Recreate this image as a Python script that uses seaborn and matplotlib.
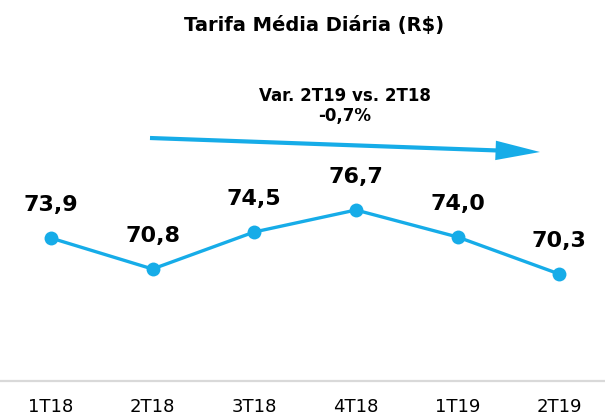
import numpy as np
import pandas as pd
import matplotlib
matplotlib.use("Agg")
import matplotlib.pyplot as plt
import seaborn as sns

# ---- Data ----
quarters = ["1T18", "2T18", "3T18", "4T18", "1T19", "2T19"]
tarifa = [73.9, 70.8, 74.5, 76.7, 74.0, 70.3]
title = "Tarifa Média Diária (R$)"
var_text = "Var. 2T19 vs. 2T18\n-0,7%"

df = pd.DataFrame({"trimestre": quarters, "tarifa": tarifa})
df["pos"] = np.arange(len(df))

blue = "#16ACE8"

sns.set_style("white")
plt.rcParams["font.family"] = ["DejaVu Sans"]
plt.rcParams["text.color"] = "black"

fig = plt.figure(figsize=(6.05, 4.17), dpi=100)
ax = fig.add_axes([0.0, 36 / 417, 1.0, 381 / 417])

sns.lineplot(data=df, x="pos", y="tarifa", ax=ax, color=blue, linewidth=2.4,
             marker="o", markersize=10, markeredgewidth=0, markeredgecolor=blue)

# value labels above points
for x, y in zip(df["pos"], df["tarifa"]):
    ax.annotate(f"{y:.1f}".replace(".", ","), (x, y), xytext=(0, 23.5),
                textcoords="offset points", ha="center", va="center",
                fontsize=16, fontweight="bold", color="black")

ax.set_xlim(-0.5, 5.45)
ax.set_ylim(59.6, 97.7)
ax.set_xticks(df["pos"])
ax.set_xticklabels(quarters, fontsize=13, color="black")
ax.set_yticks([])
ax.set_xlabel("")
ax.set_ylabel("")
ax.tick_params(axis="x", length=0, pad=12)

for side in ["top", "left", "right"]:
    ax.spines[side].set_visible(False)
ax.spines["bottom"].set_color("#d9d9d9")
ax.spines["bottom"].set_linewidth(1.6)

# variation arrow + text
ax.annotate("", xy=(540 / 605, 1 - 152 / 381), xytext=(150 / 605, 1 - 138 / 381),
            xycoords="axes fraction", textcoords="axes fraction",
            arrowprops=dict(arrowstyle="simple,head_length=3.2,head_width=1.4,tail_width=0.3",
                            color=blue, lw=0, shrinkA=0, shrinkB=0))
ax.text(345 / 605, 1 - 106 / 381, var_text, transform=ax.transAxes,
        ha="center", va="center", fontsize=12, fontweight="bold",
        linespacing=1.1, color="black")

fig.text(314 / 605, 1 - 25 / 417, title, ha="center", va="center",
         fontsize=14, fontweight="bold", color="black")

fig.savefig("out.png", dpi=100)
